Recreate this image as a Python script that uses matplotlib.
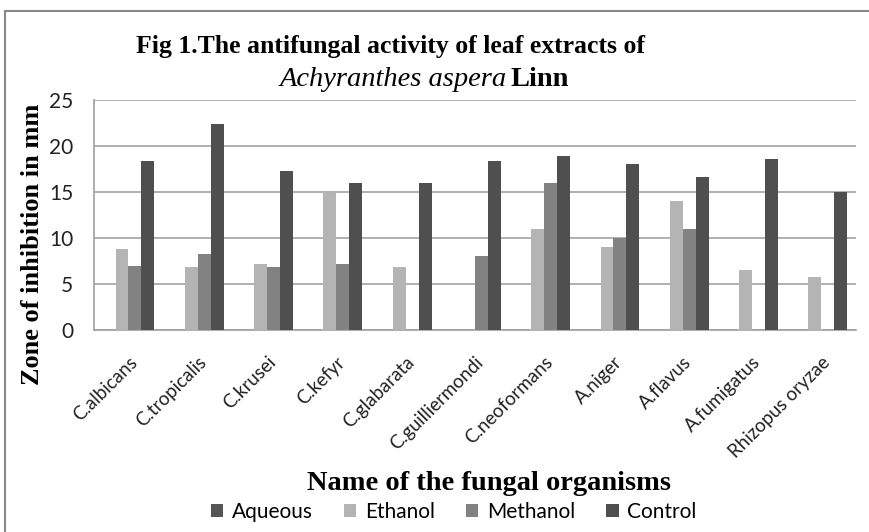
import numpy as np
import matplotlib.pyplot as plt
from matplotlib.patches import Rectangle

organisms = ['C.albicans', 'C.tropicalis', 'C.krusei', 'C.kefyr', 'C.glabarata',
             'C.guilliermondi', 'C.neoformans', 'A.niger', 'A.flavus',
             'A.fumigatus', 'Rhizopus oryzae']
aqueous = [0, 0, 0, 0, 0, 0, 0, 0, 0, 0, 0]
ethanol = [8.8, 6.8, 7.2, 14.9, 6.8, 0, 11.0, 9.0, 14.0, 6.5, 5.8]
methanol = [6.9, 8.3, 6.8, 7.2, 0, 8.0, 16.0, 10.0, 11.0, 0, 0]
control = [18.4, 22.4, 17.3, 16.0, 16.0, 18.4, 18.9, 18.0, 16.6, 18.6, 15.0]

series = ['Aqueous', 'Ethanol', 'Methanol', 'Control']
colors = ['#555555', '#b4b4b4', '#828282', '#4f4f4f']

fig = plt.figure(figsize=(8.69, 5.32), dpi=100)
ax = fig.add_axes([0.108, 0.380, 0.877, 0.432])

x = np.arange(len(organisms))
w = 0.187
for i, (name, vals) in enumerate(zip(series, [aqueous, ethanol, methanol, control])):
    ax.bar(x + (i - 1.5) * w, vals, w, color=colors[i], label=name, zorder=3)

ax.set_xlim(-0.5, len(organisms) - 0.5)
ax.set_ylim(0, 25)
ax.set_yticks([0, 5, 10, 15, 20, 25])
ax.yaxis.grid(True, color='#b0b0b0', linewidth=1.4, zorder=0)
for s in ['top', 'right']:
    ax.spines[s].set_visible(False)
ax.spines['left'].set_color('#a0a0a0')
ax.spines['bottom'].set_color('#a0a0a0')
ax.spines['left'].set_linewidth(1.2)
ax.spines['bottom'].set_linewidth(1.2)
ax.tick_params(axis='both', length=0, colors='#222222')
ax.tick_params(axis='y', pad=15, labelsize=15)
ax.tick_params(axis='x', pad=17)
ax.set_xticks(x)
ax.set_xticklabels(organisms, rotation=45, ha='right', rotation_mode='anchor',
                   fontsize=13.5, family='Lato')
for lab in ax.get_yticklabels():
    lab.set_family('Lato')

fig.text(0.449, 0.913, 'Fig 1.The antifungal activity of leaf extracts of',
         ha='center', va='center', fontsize=18.5, fontweight='bold',
         family='Liberation Serif')
fig.text(0.583, 0.85, 'Achyranthes aspera', ha='right', va='center',
         fontsize=20.5, style='italic', family='Liberation Serif')
fig.text(0.588, 0.85, 'Linn', ha='left', va='center', fontsize=20.5,
         fontweight='bold', family='Liberation Serif')

fig.text(0.037, 0.54, 'Zone of inhibition in mm', rotation=90, ha='center',
         va='center', fontsize=19, fontweight='bold', family='Liberation Serif')
fig.text(0.563, 0.092, 'Name of the fungal organisms', ha='center', va='center',
         fontsize=20.5, fontweight='bold', family='Liberation Serif')

fig.legend(loc='center', bbox_to_anchor=(0.522, 0.038), ncol=4, frameon=False,
           prop={'family': 'Lato', 'size': 15}, handlelength=0.6,
           handleheight=0.6, columnspacing=1.5, handletextpad=0.4)

fig.patches.append(Rectangle((0.006, -0.01), 1.1, 0.99, transform=fig.transFigure,
                             fill=False, edgecolor='#888888', linewidth=1.5))

fig.savefig('out.png', dpi=100)
